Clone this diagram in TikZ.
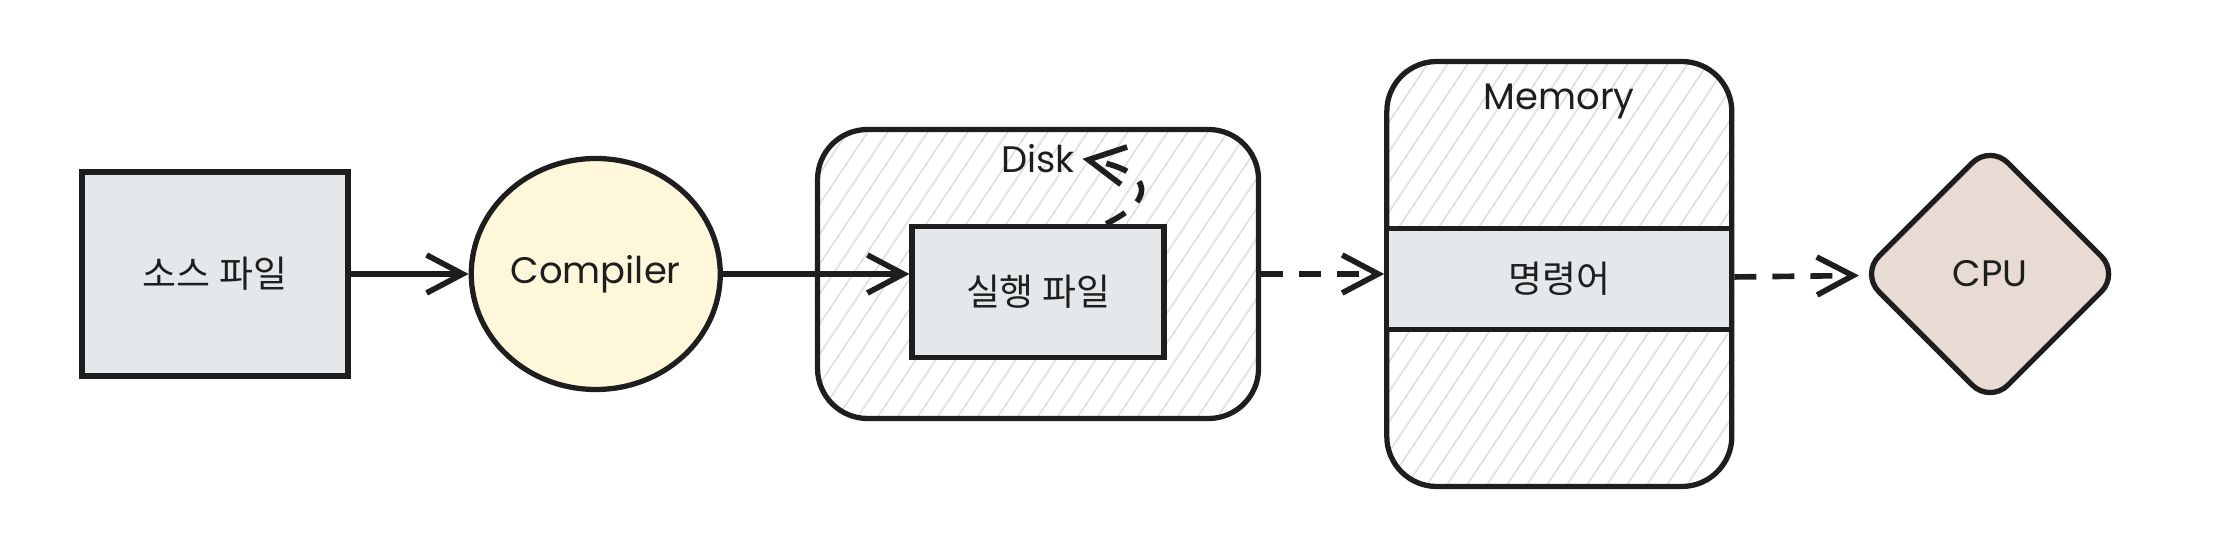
\documentclass[tikz,border=0pt]{standalone}
\usepackage{fontspec}
\setmainfont{Poppins}
\newfontfamily\krfont{Noto Sans CJK KR}
\definecolor{ink}{RGB}{30,30,30}
\definecolor{file-gray}{RGB}{229,232,235}
\definecolor{comp-yellow}{RGB}{254,247,218}
\definecolor{cpu-brown}{RGB}{232,219,211}
\definecolor{hatch-gray}{RGB}{224,224,224}
\usetikzlibrary{shapes.geometric, arrows.meta, positioning, calc, backgrounds}

\begin{document}
\begin{tikzpicture}[
    box/.style={rectangle, draw=ink, line width=1.5pt, align=center, text=ink, font=\krfont\fontsize{10.5}{12}\selectfont},
    file/.style={box, fill=file-gray},
    store/.style={rectangle, draw=ink, line width=1.5pt, rounded corners=0.5cm},
    title/.style={font=\fontsize{10.5}{12}\selectfont, text=ink, inner sep=2pt},
    arrow/.style={-{Straight Barb[length=3.6mm, width=3.8mm]}, line width=1.6pt, draw=ink},
    dasharrow/.style={arrow, dash pattern=on 2.2mm off 1.6mm},
    hatch/.style={draw=hatch-gray, line width=0.5pt}
]
\useasboundingbox (0,0) rectangle (22.16,-5.58);

\node[file, minimum width=2.66cm, minimum height=2.04cm] (source) at (2.15,-2.74) {소스 파일};
\node[ellipse, draw=ink, line width=1.5pt, fill=comp-yellow, inner sep=0pt, minimum width=2.49cm, minimum height=2.31cm, text=ink, font=\fontsize{10.5}{12}\selectfont, right=1.18cm of source] (compiler) {Compiler};
\node[store, minimum width=4.41cm, minimum height=2.89cm, right=0.92cm of compiler] (disk) {};
\node[title, below=0.1cm of disk.north] (disktitle) {Disk};
\node[file, minimum width=2.52cm, minimum height=1.31cm, below=0.97cm of disk.north] (exec) {실행 파일};
\node[store, minimum width=3.45cm, minimum height=4.25cm, right=1.23cm of disk] (memory) {};
\node[title, below=0.17cm of memory.north] (memtitle) {Memory};
\node[file, minimum width=3.45cm, minimum height=1.01cm, yshift=-0.05cm] (cmd) at (memory.center) {명령어};
\node[diamond, draw=ink, line width=1.5pt, fill=cpu-brown, rounded corners=0.25cm, inner sep=0pt, minimum width=2.6cm, minimum height=2.6cm, text=ink, font=\fontsize{10.5}{12}\selectfont, right=1.23cm of memory] (cpu) {CPU};

% hatching behind the storage boxes
\begin{scope}[on background layer]
  \begin{scope}
    \clip[rounded corners=0.5cm] (disk.south west) rectangle (disk.north east);
    \foreach \i in {-12,...,24}
      \draw[hatch] ($(disk.south west)+(0.2*\i,0)$) -- ++(2,3);
  \end{scope}
  \begin{scope}
    \clip[rounded corners=0.5cm] (memory.south west) rectangle (memory.north east);
    \foreach \i in {-16,...,19}
      \draw[hatch] ($(memory.south west)+(0.2*\i,0)$) -- ++(3,4.5);
  \end{scope}
\end{scope}

\draw[arrow] (source) -- (compiler);
\draw[arrow] (compiler.east) -- (exec.west |- compiler.east);
\draw[dasharrow] (disk) -- (memory);
\draw[dasharrow] (cmd) -- (cpu);
\draw[dasharrow] (exec.45) .. controls +(0.6,0.3) and +(0.6,-0.1) .. (disktitle.east);

\end{tikzpicture}
\end{document}
